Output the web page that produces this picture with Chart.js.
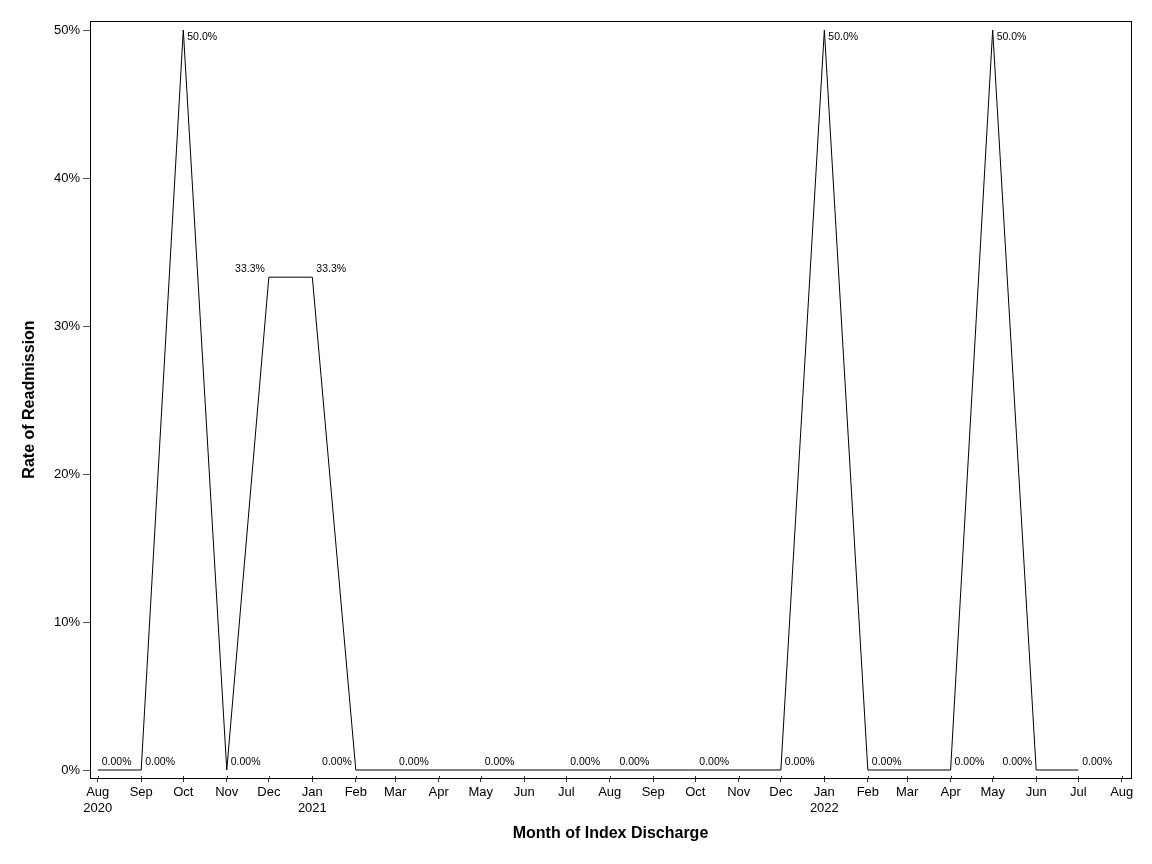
<!DOCTYPE html>
<html>
<head>
<meta charset="utf-8">
<script src="https://cdn.jsdelivr.net/npm/chart.js@4/dist/chart.umd.min.js"></script>
<style>
  html, body { margin: 0; padding: 0; background: #fff; }
  #wrap { width: 1152px; height: 864px; }
</style>
</head>
<body>
<div id="wrap"><canvas id="c" width="1152" height="864"></canvas></div>
<script>
// ---- data ----
const months = ['2020-08','2020-09','2020-10','2020-11','2020-12','2021-01','2021-02','2021-03','2021-05','2021-07','2021-09','2021-10','2021-12','2022-01','2022-02','2022-04','2022-05','2022-06','2022-07'];
const rates  = [0, 0, 50, 0, 33.3, 33.3, 0, 0, 0, 0, 0, 0, 0, 50, 0, 0, 50, 0, 0];
const tickMonths = ['2020-08','2020-09','2020-10','2020-11','2020-12','2021-01','2021-02','2021-03','2021-04','2021-05','2021-06','2021-07','2021-08','2021-09','2021-10','2021-11','2021-12','2022-01','2022-02','2022-03','2022-04','2022-05','2022-06','2022-07','2022-08'];
const monthNames = ['Jan','Feb','Mar','Apr','May','Jun','Jul','Aug','Sep','Oct','Nov','Dec'];
const yTicks = [0, 10, 20, 30, 40, 50];
const xTitle = 'Month of Index Discharge';
const yTitle = 'Rate of Readmission';
// months whose value label sits to the left of the point
const leftLabelMonths = ['2020-12','2021-02','2021-09','2022-06'];

function dayNum(ym) { const p = ym.split('-').map(Number); return Date.UTC(p[0], p[1]-1, 1) / 86400000; }
function fmtLabel(v) { return v === 0 ? '0.00%' : v.toFixed(1) + '%'; }

const FONT = "'Liberation Sans', Arial, sans-serif";
Chart.defaults.font.family = FONT;
Chart.defaults.color = '#000';

const pts = months.map((m, i) => ({ x: dayNum(m), y: rates[i] }));
const tickVals = tickMonths.map(dayNum);

const framePlugin = {
  id: 'frame',
  afterDraw(chart) {
    const { ctx, chartArea: a } = chart;
    ctx.save();
    ctx.strokeStyle = '#000';
    ctx.lineWidth = 1;
    ctx.strokeRect(Math.round(a.left) + 0.5, Math.round(a.top) + 0.5, Math.round(a.right - a.left), Math.round(a.bottom - a.top));
    // inner part of the x tick marks (they cross the axis line)
    const xs = chart.scales.x;
    ctx.strokeStyle = '#333';
    ctx.beginPath();
    tickVals.forEach(v => {
      const px = Math.round(xs.getPixelForValue(v)) + 0.5;
      ctx.moveTo(px, a.bottom - 2);
      ctx.lineTo(px, a.bottom);
    });
    ctx.stroke();
    // axis titles
    ctx.fillStyle = '#000';
    ctx.font = "bold 16px " + FONT;
    ctx.textAlign = 'center';
    ctx.textBaseline = 'middle';
    ctx.fillText(xTitle, (a.left + a.right) / 2, 834);
    ctx.translate(30, (a.top + a.bottom) / 2);
    ctx.rotate(-Math.PI / 2);
    ctx.fillText(yTitle, 0, 0);
    ctx.restore();
  }
};

const labelPlugin = {
  id: 'vlabels',
  afterDatasetsDraw(chart) {
    const { ctx, chartArea: a } = chart;
    const meta = chart.getDatasetMeta(0);
    ctx.save();
    ctx.font = "10.5px " + FONT;
    ctx.fillStyle = '#000';
    ctx.textBaseline = 'middle';
    meta.data.forEach((el, i) => {
      const txt = fmtLabel(rates[i]);
      const left = leftLabelMonths.includes(months[i]);
      let y = el.y - 8;
      if (y - 5 < a.top) y = el.y + 7;
      if (left) { ctx.textAlign = 'right'; ctx.fillText(txt, el.x - 4, y); }
      else { ctx.textAlign = 'left'; ctx.fillText(txt, el.x + 4, y); }
    });
    ctx.restore();
  }
};

new Chart(document.getElementById('c'), {
  type: 'line',
  data: {
    datasets: [{
      data: pts,
      borderColor: '#000',
      borderWidth: 1,
      pointRadius: 0,
      tension: 0,
      fill: false
    }]
  },
  options: {
    responsive: false,
    animation: false,
    devicePixelRatio: 1,
    layout: { padding: { top: 21, right: 21, left: 0, bottom: 0 } },
    plugins: { legend: { display: false }, tooltip: { enabled: false } },
    scales: {
      x: {
        type: 'linear',
        min: dayNum('2020-08') - 5.5,
        max: dayNum('2022-08') + 6.6,
        border: { display: false },
        grid: { drawOnChartArea: false, drawTicks: true, tickLength: 4, color: '#333' },
        afterBuildTicks(scale) { scale.ticks = tickVals.map(v => ({ value: v })); },
        afterFit(scale) { scale.height = 86; },
        ticks: {
          autoSkip: false, maxRotation: 0, minRotation: 0, padding: 3,
          font: { size: 13 }, color: '#000',
          callback(value, idx) {
            const d = new Date(value * 86400000);
            const m = d.getUTCMonth();
            const name = monthNames[m];
            if (idx === 0 || m === 0) return [name, String(d.getUTCFullYear())];
            return name;
          }
        }
      },
      y: {
        min: -0.54,
        max: 50.61,
        border: { display: false },
        grid: { drawOnChartArea: false, drawTicks: true, tickLength: 7, color: '#555' },
        afterBuildTicks(scale) { scale.ticks = yTicks.map(v => ({ value: v })); },
        afterFit(scale) { scale.width = 90; },
        ticks: {
          padding: 3, font: { size: 13 }, color: '#000',
          callback(v) { return v + '%'; }
        }
      }
    }
  },
  plugins: [framePlugin, labelPlugin]
});
</script>
</body>
</html>
